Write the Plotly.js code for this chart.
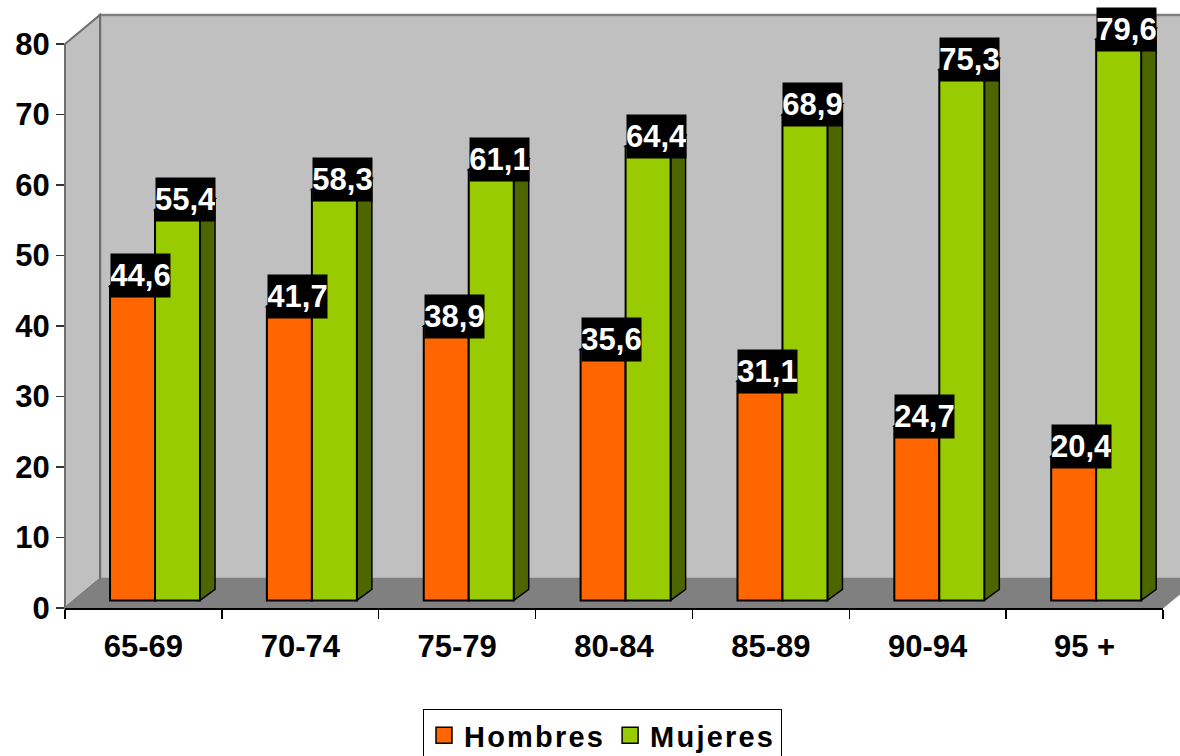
<!DOCTYPE html>
<html><head><meta charset="utf-8">
<script src="https://cdn.plot.ly/plotly-3.0.1.min.js"></script>
<style>html,body{margin:0;padding:0;background:#fff} .legendtext{letter-spacing:2.2px}</style>
</head><body><div id="chart" style="width:1180px;height:756px"></div>
<script>
// ---- data ----
const categories = ['65-69','70-74','75-79','80-84','85-89','90-94','95 +'];
const hombres = [44.6, 41.7, 38.9, 35.6, 31.1, 24.7, 20.4];
const mujeres = [55.4, 58.3, 61.1, 64.4, 68.9, 75.3, 79.6];
const yTicks = [0, 10, 20, 30, 40, 50, 60, 70, 80];
const seriesNames = ['Hombres', 'Mujeres'];
const seriesColors = ['#ff6600', '#99cc00'];
const sideColors = ['#993d00', '#4d6600'];

// ---- geometry (pixels) ----
const W = 1180, H = 756, L = 65, R = 17, T = 0, B = 148;
const pw = W - L - R, ph = H - T - B;
const pxPerCat = pw / categories.length;
const yMax = 86.24, pxPerUnit = ph / yMax;
const barDX = 11.6, barDY = 7.6;      // bar front plane offset from axis plane
const sideDX = 15, sideDY = 11;       // bar depth
const depthDX = 35, depthDY = 29;     // wall depth
const bw = 45 / pxPerCat;
const sdx = sideDX / pxPerCat, sdy = sideDY / pxPerUnit;
const idx = categories.map((c, i) => i);
const FONT = 'Liberation Sans, Arial, sans-serif';

const px = x => (x - L) / pw;
const py = y => (H - B - y) / ph;

// wall corners from axes extents
const fx0 = L, fx1 = L + pw, fyTop = H - B - 80 * pxPerUnit, fyBot = H - B;
const shapes = [];
// back wall
shapes.push({type: 'rect', xref: 'paper', yref: 'paper', layer: 'below',
  x0: px(fx0 + depthDX), x1: px(fx1 + depthDX + 20), y0: py(fyBot - depthDY), y1: py(fyTop - depthDY),
  fillcolor: '#c0c0c0', line: {color: '#808080', width: 2.5}});
// left wall
shapes.push({type: 'path', xref: 'paper', yref: 'paper', layer: 'below',
  path: `M${px(fx0)},${py(fyTop)} L${px(fx0 + depthDX)},${py(fyTop - depthDY)} L${px(fx0 + depthDX)},${py(fyBot - depthDY)} L${px(fx0)},${py(fyBot)} Z`,
  fillcolor: '#c0c0c0', line: {color: '#6e6e6e', width: 2}});
// floor
shapes.push({type: 'path', xref: 'paper', yref: 'paper', layer: 'below',
  path: `M${px(fx0)},${py(fyBot)} L${px(fx0 + depthDX)},${py(fyBot - depthDY)} L${px(fx1 + depthDX)},${py(fyBot - depthDY)} L${px(fx1)},${py(fyBot)} Z`,
  fillcolor: '#808080', line: {color: '#808080', width: 1}});

// bar side and top faces (computed from the data)
[hombres, mujeres].forEach((vals, s) => {
  vals.forEach((v, i) => {
    const xl = i + (s === 0 ? -bw : 0), xr = xl + bw;
    shapes.push({type: 'path', xref: 'x2', yref: 'y2', layer: 'below',
      path: `M${xr},0 L${xr + sdx},${sdy} L${xr + sdx},${v + sdy} L${xr},${v} Z`,
      fillcolor: sideColors[s], line: {color: '#000', width: 1.5}});
    shapes.push({type: 'path', xref: 'x2', yref: 'y2', layer: 'below',
      path: `M${xl},${v} L${xl + sdx},${v + sdy} L${xr + sdx},${v + sdy} L${xr},${v} Z`,
      fillcolor: seriesColors[s], line: {color: '#000', width: 1.5}});
  });
});

const traces = [hombres, mujeres].map((vals, s) => ({
  type: 'bar', x: idx, y: vals, xaxis: 'x2', yaxis: 'y2',
  width: bw, offset: s === 0 ? -bw : 0,
  marker: {color: seriesColors[s], line: {color: '#000', width: 2}},
  showlegend: false, hoverinfo: 'skip'
}));
seriesNames.forEach((n, s) => traces.push({
  type: 'scatter', mode: 'markers', x: [null], y: [null], name: n,
  marker: {symbol: 'square', size: 16, color: seriesColors[s], line: {color: '#000', width: 1.5}}
}));

const annotations = [];
[hombres, mujeres].forEach((vals, s) => {
  vals.forEach((v, i) => {
    annotations.push({xref: 'x2', yref: 'y2', x: i + (s === 0 ? -bw / 2 : bw / 2), y: v,
      xshift: 8, yshift: 10, text: v.toFixed(1).replace('.', ','), showarrow: false,
      xanchor: 'center', yanchor: 'middle', width: 59, height: 43, borderpad: 0,
      bgcolor: '#000', font: {family: FONT, size: 31, color: '#fff', weight: 'bold'}});
  });
});

const layout = {
  width: W, height: H,
  margin: {l: L, r: R, t: T, b: B, autoexpand: false},
  paper_bgcolor: '#fff', plot_bgcolor: 'rgba(0,0,0,0)',
  font: {family: FONT, color: '#000'},
  xaxis: {type: 'category', categoryarray: categories, range: [-0.5, categories.length - 0.5],
    tickson: 'boundaries', ticks: 'outside', ticklen: 9, tickwidth: 1.5, tickcolor: '#000',
    showline: true, linecolor: '#000', linewidth: 2, showgrid: false, zeroline: false,
    tickfont: {size: 31, weight: 'bold', family: FONT}, ticklabelstandoff: 10, automargin: false, fixedrange: true},
  yaxis: {range: [0, yMax], tickmode: 'array', tickvals: yTicks, ticktext: yTicks.map(String),
    ticks: 'outside', ticklen: 8, tickwidth: 1.5, tickcolor: '#333', showline: false,
    showgrid: false, zeroline: false, tickfont: {size: 31, weight: 'bold', family: FONT}, automargin: false, fixedrange: true},
  xaxis2: {overlaying: 'x', anchor: 'y2', visible: false,
    range: [-0.5 - barDX / pxPerCat, categories.length - 0.5 - barDX / pxPerCat], fixedrange: true},
  yaxis2: {overlaying: 'y', anchor: 'x2', visible: false,
    range: [-barDY / pxPerUnit, yMax - barDY / pxPerUnit], fixedrange: true},
  shapes: shapes,
  annotations: annotations,
  showlegend: true,
  legend: {orientation: 'h', x: px(602.5), xanchor: 'center', y: py(709), yanchor: 'top',
    bordercolor: '#000', borderwidth: 1, bgcolor: '#fff',
    font: {size: 29, weight: 'bold', family: FONT}, itemsizing: 'trace'},
  hovermode: false
};
Plotly.newPlot('chart', traces, layout, {displayModeBar: false, staticPlot: true});
</script></body></html>
